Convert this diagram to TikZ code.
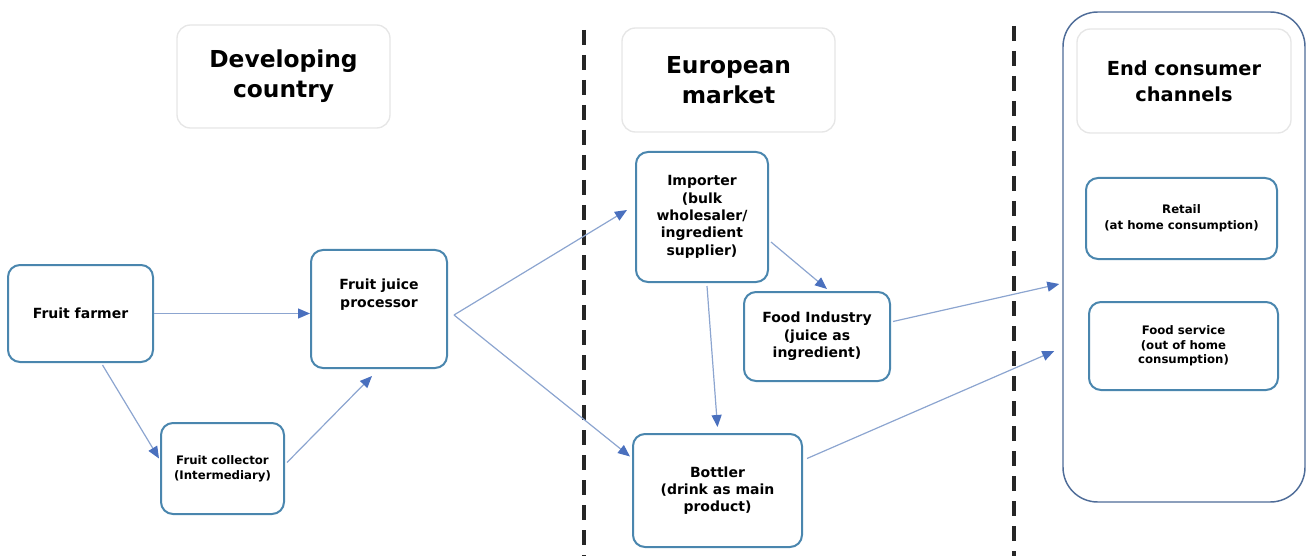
\documentclass[tikz,border=0pt]{standalone}
\usepackage{fontspec}
\setmainfont{DejaVu Sans}
\usetikzlibrary{arrows.meta,calc}
\definecolor{boxc}{HTML}{4A86AE}
\definecolor{hdrc}{HTML}{E6E6E6}
\definecolor{contc}{HTML}{4E6C98}
\definecolor{linec}{HTML}{8CA5D0}
\definecolor{tipc}{HTML}{4A70BE}
\begin{document}
\begin{tikzpicture}[x=0.75pt,y=-0.75pt,
  sz/.style 2 args={minimum width={#1*0.75pt},minimum height={#2*0.75pt}},
  box/.style={draw=boxc,line width=1.5pt,rounded corners=9pt,fill=white,align=center,inner sep=0pt,
    font=\bfseries\fontsize{10.5}{13}\selectfont},
  smallbox/.style={box,font=\bfseries\fontsize{8.8}{11.5}\selectfont},
  hdr/.style={draw=hdrc,line width=1pt,rounded corners=10pt,fill=white,align=center,inner sep=0pt,
    font=\bfseries\fontsize{17.5}{22.5}\selectfont},
  cont/.style={draw=contc,line width=1.1pt,rounded corners=26pt,inner sep=0pt},
  txt/.style={align=center,inner sep=0pt,font=\bfseries\fontsize{10.5}{13.5}\selectfont},
  flow/.style={draw=linec,line width=0.9pt,-{Triangle[length=9pt,width=7.5pt,color=tipc]}},
  divider/.style={draw=black!85,line width=2.4pt,dash pattern=on 11.25pt off 7.5pt}]
\useasboundingbox (0,0) rectangle (1307,556);

% dividers
\coordinate (d1a) at (584,30);
\coordinate (d1b) at (584,556);
\coordinate (d2a) at (1014,26);
\coordinate (d2b) at (1014,556);
\draw[divider] (d1a) -- (d1b);
\draw[divider] (d2a) -- (d2b);

% container
\node[cont,sz={242}{490}] (cont) at (1184,257) {};

% headers
\node[hdr,sz={213}{103}] (h1) at (283.5,76.5) {Developing\\country};
\node[hdr,sz={213}{104}] (h2) at (728.5,80) {European\\market};
\node[hdr,sz={214}{104},font=\bfseries\fontsize{14.5}{19.5}\selectfont] (h3) at (1184,81) {End consumer\\channels};

% boxes
\node[box,sz={145}{97}] (farmer) at (80.5,313.5) {Fruit farmer};
\node[box,sz={136}{118}] (proc) at (379,309) {};
\node[txt] (proctxt) at (379,295) {Fruit juice\\processor};
\node[smallbox,sz={123}{91}] (coll) at (222.5,468.5) {Fruit collector\\(Intermediary)};
\node[box,sz={132}{130}] (imp) at (702,217) {Importer\\(bulk\\wholesaler/\\ingredient\\supplier)};
\node[box,sz={146}{89}] (food) at (817,336.5) {Food Industry\\(juice as\\ingredient)};
\node[box,sz={169}{113}] (bott) at (717.5,490.5) {Bottler\\(drink as main\\product)};
\node[smallbox,sz={191}{81},font=\bfseries\fontsize{8.8}{12}\selectfont] (retail) at (1181.5,218.5) {Retail\\(at home consumption)};
\node[smallbox,sz={189}{88},font=\bfseries\fontsize{8.8}{11}\selectfont] (fserv) at (1183.5,346) {Food service\\(out of home\\consumption)};

% connectors
\draw[flow] (farmer.east) -- (farmer.east -| proc.west);
\draw[flow] ($(farmer.south)+(22,2)$) -- ($(coll.west)+(-1,-10)$);
\draw[flow] ($(coll.east)+(2,-6)$) -- ($(proc.south)+(-7,7)$);
\draw[flow] ($(proc.east)+(6,6)$) -- ($(imp.west)+(-8,-7)$);
\draw[flow] ($(proc.east)+(6,6)$) -- ($(bott.west)+(-2,-34)$);
\draw[flow] ($(imp.east)+(2,25)$) -- ($(food.north)+(10,-2)$);
\draw[flow] ($(imp.south)+(5,3)$) -- ($(bott.north)+(0,-6)$);
\draw[flow] ($(food.east)+(2,-15)$) -- ($(cont.west)+(-3,27)$);
\draw[flow] ($(bott.east)+(4,-32)$) -- ($(cont.west)+(-8,94)$);
\end{tikzpicture}
\end{document}
